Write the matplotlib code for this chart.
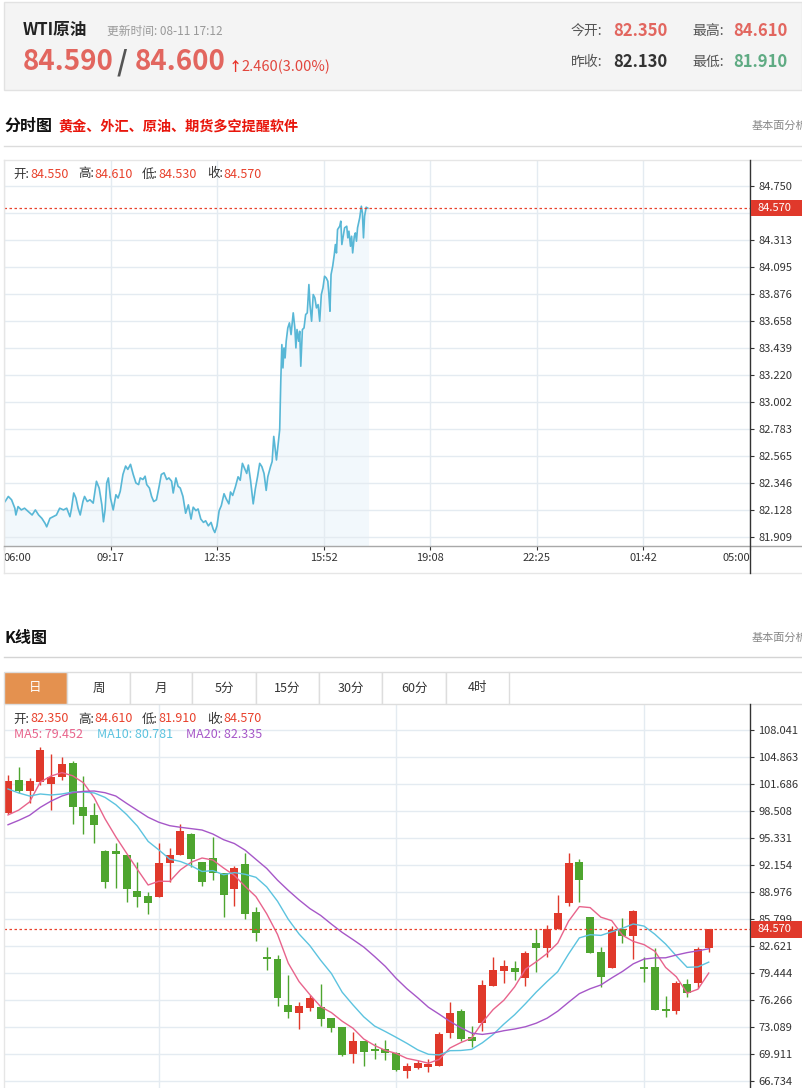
import numpy as np
import pandas as pd
import matplotlib
matplotlib.use("Agg")
import matplotlib.pyplot as plt
from matplotlib.patches import Rectangle
from matplotlib.lines import Line2D

plt.rcParams["font.family"] = ["Noto Sans CJK SC", "DejaVu Sans"]

# ---------------- 分时 data (minutes after 06:00) ----------------
tick_minutes = [
    2, 8, 14, 20, 22, 26, 32, 38, 45, 52, 58, 64, 70, 76, 79, 85, 91, 97, 103, 110,
    116, 122, 125, 129, 133, 137, 141, 146, 149, 154, 159, 165, 171, 176, 181, 184, 187, 190, 193, 197,
    202, 207, 211, 215, 220, 225, 229, 234, 239, 244, 249, 252, 257, 261, 264, 269, 273, 277, 282, 287,
    291, 296, 301, 305, 310, 313, 318, 322, 326, 331, 336, 341,
    346, 350, 355, 359, 364, 369, 373, 378, 383, 387, 390, 394, 398, 402, 407, 411, 416, 419, 423, 428,
    433, 437, 441, 445, 449, 452, 456, 461, 465, 469, 473, 477, 481, 485, 488, 493, 496, 499, 504, 507, 510,
    512, 514, 516, 518, 520, 522, 525, 528, 531, 535, 538, 540, 542, 545, 547, 549, 552, 555, 558, 561,
    564, 566, 569, 572, 575, 578, 581, 584, 587, 590, 593, 596, 599, 601, 603, 605, 608, 611, 613, 615,
    617, 621, 623, 625, 628, 630, 634, 636, 638, 641, 643, 645, 648, 650, 652, 654, 656, 658, 661, 663,
    665, 667, 670, 673,
]
tick_price = [
    82.196, 82.237, 82.210, 82.142, 82.087, 82.155, 82.128, 82.142, 82.114, 82.087, 82.128, 82.087, 82.060,
    82.019, 81.991, 82.060, 82.073, 82.087, 82.142, 82.128,
    82.142, 82.073, 82.142, 82.265, 82.224, 82.142, 82.087, 82.196, 82.237, 82.196, 82.210, 82.183, 82.360,
    82.305, 82.169, 82.032, 82.128, 82.346, 82.387, 82.224,
    82.128, 82.251, 82.224, 82.278, 82.415, 82.483, 82.456, 82.497, 82.415, 82.346, 82.333, 82.387, 82.374,
    82.401, 82.333, 82.305, 82.237, 82.196, 82.210, 82.319,
    82.415, 82.428, 82.374, 82.387, 82.360, 82.265, 82.387, 82.319, 82.305, 82.237, 82.101, 82.169,
    82.054, 82.150, 82.122, 82.136, 82.054, 82.027, 82.040, 81.999, 82.027, 81.972, 81.945, 81.999, 82.122,
    82.163, 82.259, 82.218, 82.177, 82.273, 82.245, 82.314,
    82.396, 82.368, 82.505, 82.464, 82.423, 82.491, 82.368, 82.177, 82.300, 82.396, 82.505, 82.478, 82.423,
    82.286, 82.396, 82.478, 82.519, 82.723, 82.532, 82.655, 82.778,
    83.170, 83.466, 83.277, 83.439, 83.358, 83.493, 83.601, 83.642, 83.547, 83.723, 83.601, 83.439, 83.588,
    83.493, 83.574, 83.291, 83.588, 83.601, 83.709, 83.723,
    83.952, 83.790, 83.655, 83.871, 83.844, 83.763, 83.790, 83.655, 83.871, 83.925, 84.019, 84.006, 83.979,
    83.871, 83.736, 84.033, 84.100, 84.195, 84.276, 84.208,
    84.397, 84.424, 84.465, 84.276, 84.357, 84.411, 84.424, 84.330, 84.384, 84.262, 84.343, 84.208, 84.343,
    84.370, 84.303, 84.411, 84.451, 84.492, 84.586, 84.532,
    84.330, 84.505, 84.578, 84.570,
]
time_labels = ["06:00", "09:17", "12:35", "15:52", "19:08", "22:25", "01:42", "05:00"]
tick_axis_values = [81.909, 82.128, 82.346, 82.565, 82.783, 83.002, 83.220,
                    83.439, 83.658, 83.876, 84.095, 84.313, 84.532, 84.750]
# 84.532 sits under the red price tag, so its label is not visible
tick_axis_labels = ["81.909", "82.128", "82.346", "82.565", "82.783", "83.002", "83.220",
                    "83.439", "83.658", "83.876", "84.095", "84.313", "", "84.750"]

# ---------------- 日K data ----------------
k_open = [98.27, 102.16, 100.86, 101.92, 101.68, 102.51, 104.16, 98.98, 98.04, 93.80,
          93.80, 93.33, 89.09, 88.50, 88.39, 92.39, 93.33, 95.80, 92.51, 92.98,
          91.21, 89.33, 92.27, 86.62, 81.33, 81.09, 75.68, 74.74, 75.32, 75.44,
          74.15, 73.09, 69.91, 71.44, 70.50, 70.50, 70.03, 67.91, 68.26, 68.38,
          68.50, 72.38, 74.97, 71.91, 73.56, 77.91, 79.68, 80.03, 78.86, 82.97,
          82.39, 84.62, 87.68, 92.51, 86.03, 81.91, 80.03, 84.62, 83.80, 80.15,
          80.15, 75.21, 74.97, 78.15, 78.27, 82.35]
k_high = [102.74, 103.69, 102.39, 106.04, 105.21, 104.86, 104.39, 102.63, 99.45, 93.92,
          94.74, 93.33, 92.51, 88.98, 94.74, 94.15, 96.98, 95.92, 92.51, 95.45,
          91.21, 92.04, 93.57, 87.21, 82.50, 81.56, 79.21, 76.03, 76.85, 78.15,
          74.15, 73.09, 72.50, 71.44, 71.21, 71.56, 70.15, 68.85, 69.21, 69.32,
          72.50, 76.03, 75.21, 73.21, 78.62, 81.33, 80.97, 80.86, 82.03, 84.62,
          85.09, 88.62, 93.57, 92.86, 86.03, 82.50, 84.97, 85.92, 86.86, 81.33,
          82.39, 76.74, 78.50, 78.74, 82.50, 84.61]
k_low = [98.15, 100.63, 99.45, 101.57, 98.62, 102.16, 96.98, 95.80, 94.74, 89.45,
         89.45, 87.80, 87.21, 86.39, 88.39, 90.15, 93.33, 91.92, 89.68, 90.39,
         86.03, 87.33, 85.80, 83.21, 79.80, 75.56, 74.15, 72.85, 74.97, 73.21,
         72.50, 69.68, 68.85, 68.50, 69.32, 69.21, 67.91, 67.09, 68.15, 67.79,
         68.50, 71.79, 71.44, 70.74, 72.62, 77.91, 78.27, 78.62, 77.91, 79.56,
         81.33, 84.62, 87.33, 87.80, 81.80, 77.80, 80.03, 82.97, 81.09, 78.38,
         75.09, 74.27, 74.62, 76.62, 77.68, 81.91]
k_close = [102.04, 100.86, 102.04, 105.69, 102.51, 104.04, 98.98, 97.92, 96.86, 90.15,
           93.45, 89.33, 88.39, 87.68, 92.39, 93.33, 96.15, 92.86, 90.15, 91.21,
           88.62, 91.80, 86.39, 84.15, 81.09, 76.50, 74.85, 75.56, 76.50, 74.03,
           72.97, 69.79, 71.44, 70.15, 70.26, 70.03, 68.03, 68.50, 68.85, 68.73,
           72.27, 74.74, 71.68, 71.44, 78.03, 79.80, 80.27, 79.56, 81.80, 82.39,
           84.62, 86.50, 92.39, 90.39, 81.80, 78.97, 84.50, 83.80, 86.74, 79.91,
           75.09, 74.97, 78.27, 77.09, 82.27, 84.57]
# moving averages at the left edge depend on earlier days
ma5_head = [98.04, 98.62, 99.57, 101.92]
ma10_head = [101.10, 100.63, 100.27, 100.51, 100.39, 100.51, 100.74, 100.74, 100.63]
ma20_head = [96.89, 97.41, 98.00, 98.94, 99.68, 100.27, 100.66, 100.82, 100.86, 100.66,
             100.27, 99.41, 98.59, 97.77, 97.18, 96.78, 96.59, 96.43, 96.27]
month_starts = [14, 36, 59]
k_axis_labels = ["66.734", "69.911", "73.089", "76.266", "79.444", "82.621", "85.799",
                 "88.976", "92.154", "95.331", "98.508", "101.686", "104.863", "108.041"]
tabs = ["日", "周", "月", "5分", "15分", "30分", "60分", "4时"]

RED = "#e8412c"
UP = "#e0392b"
DOWN = "#4ea52f"
GRID = "#e4ebf1"

W, H = 802, 1088
fig = plt.figure(figsize=(W / 100, H / 100), dpi=100)
fig.patch.set_facecolor("white")


def fx(x):
    return x / W


def fy(y):
    return 1 - y / H


def put(x, y, s, size=9, color="#333333", weight="normal", ha="left", z=4):
    fig.text(fx(x), fy(y), s, fontsize=size, color=color, fontweight=weight,
             ha=ha, va="center", zorder=z)


def rect(x0, y0, x1, y1, fc="none", ec="none", lw=1, z=1):
    fig.add_artist(Rectangle((fx(x0), fy(y1)), (x1 - x0) / W, (y1 - y0) / H,
                             transform=fig.transFigure, facecolor=fc, edgecolor=ec,
                             linewidth=lw, zorder=z))


def hline(x0, x1, y, color, lw=1, z=3):
    fig.add_artist(Line2D([fx(x0), fx(x1)], [fy(y), fy(y)], transform=fig.transFigure,
                          color=color, lw=lw, zorder=z))


def vline(x, y0, y1, color, lw=1, z=3):
    fig.add_artist(Line2D([fx(x), fx(x)], [fy(y0), fy(y1)], transform=fig.transFigure,
                          color=color, lw=lw, zorder=z))


# ---------------- header ----------------
rect(4, 2, 802, 90, fc="#f4f4f4", ec="#e2e2e2", z=0)
put(23, 30, "WTI原油", 12, "#222222", "bold")
put(107, 31, "更新时间: 08-11 17:12", 8.5, "#999999")
put(23, 62, "84.590", 20, "#e2665f", "bold")
put(117, 62, "/", 20, "#555555", "bold")
put(135, 62, "84.600", 20, "#e2665f", "bold")
put(229, 67, "↑", 9.5, "#e8332a", "bold")
put(241, 67, "2.460(3.00%)", 10.5, "#e2463d")
put(571, 31, "今开:", 10, "#555555")
put(613, 31, "82.350", 12, "#e2665f", "bold")
put(692, 31, "最高:", 10, "#555555")
put(733, 31, "84.610", 12, "#e2665f", "bold")
put(571, 62, "昨收:", 10, "#555555")
put(613, 62, "82.130", 12, "#333333", "bold")
put(692, 62, "最低:", 10, "#555555")
put(733, 62, "81.910", 12, "#5fab83", "bold")

# ---------------- 分时图 ----------------
put(4, 126, "分时图", 11.5, "#111111", "bold")
put(58, 126, "黄金、外汇、原油、期货多空提醒软件", 10.2, "#e8160c", "bold")
put(752, 126, "基本面分析", 8, "#888888")
hline(4, 802, 146, "#dcdcdc")

y_lo1, y_hi1 = 81.836, 84.960
ax1 = fig.add_axes([fx(4), fy(546), (750 - 4) / W, (546 - 160) / H])
ax1.set_facecolor("none")
ax1.fill_between(tick_minutes, tick_price, y_lo1, color="#f2f8fc", zorder=1)
ax1.plot(tick_minutes, tick_price, color="#58b7d6", lw=1.2, zorder=3)
ax1.axhline(tick_price[-1], color=RED, lw=0.9, ls=(0, (2, 2)), zorder=4)
ax1.set_xlim(0, 1380)
ax1.set_ylim(y_lo1, y_hi1)
ax1.set_yticks(tick_axis_values)
ax1.set_yticklabels(tick_axis_labels)
ax1.set_xticks(np.linspace(0, 1380, len(time_labels)))
ax1.set_xticklabels(time_labels)
ax1.yaxis.tick_right()
ax1.tick_params(axis="y", length=3, pad=3, labelsize=8, colors="#333333")
ax1.tick_params(axis="x", length=3, pad=2, labelsize=8, colors="#333333")
xl = ax1.get_xticklabels()
xl[0].set_ha("left")
xl[-1].set_ha("right")
ax1.grid(color=GRID, lw=1, zorder=0)
for s in ax1.spines.values():
    s.set_visible(False)

hline(4, 802, 160, "#e6e6e6")
hline(4, 802, 573, "#e6e6e6")
vline(4, 160, 573, "#e6e6e6")
hline(4, 802, 546, "#a8a8a8")
vline(750, 160, 573, "#333333")

labels = ["开:", "高:", "低:", "收:"]
lab_x = [13, 78, 142, 207]
val_x = [30, 94, 158, 223]
tick_ohlc = ["84.550", "84.610", "84.530", "84.570"]
for lab, lx, vx, v in zip(labels, lab_x, val_x, tick_ohlc):
    put(lx, 174, lab, 9, "#333333")
    put(vx, 174, v, 9, RED)

rect(751, 200, 802, 216, fc="#e0392b", z=5)
put(757, 208, "84.570", 8, "white", z=6)

# ---------------- K线图 ----------------
put(4, 638, "K线图", 11.5, "#111111", "bold")
put(752, 638, "基本面分析", 8, "#888888")
hline(4, 802, 657, "#d4d4d4")

tab_edges = [4, 67, 130, 192, 256, 319, 382, 446, 509]
for i, lab in enumerate(tabs):
    x0, x1 = tab_edges[i], tab_edges[i + 1]
    rect(x0, 672, x1, 704, fc="#e4914f" if i == 0 else "white", ec="#dddddd", z=2)
    put((x0 + x1) / 2, 688, lab, 9, "white" if i == 0 else "#333333", ha="center")
hline(509, 802, 672, "#dddddd")
hline(509, 802, 704, "#dddddd")

ax2 = fig.add_axes([fx(4), 0, (750 - 4) / W, (1088 - 704) / H])
ax2.set_facecolor("none")
idx = np.arange(len(k_close))
o = np.array(k_open)
c = np.array(k_close)
colors = [UP if cc >= oo else DOWN for oo, cc in zip(o, c)]
bottoms = np.minimum(o, c)
heights = np.maximum(np.abs(c - o), 0.15)
ax2.vlines(idx, k_low, k_high, colors=colors, lw=1, zorder=2)
ax2.bar(idx, heights, bottom=bottoms, width=0.74, color=colors, zorder=3)

close_s = pd.Series(k_close)
ma5 = close_s.rolling(5).mean().to_numpy()
ma5[:len(ma5_head)] = ma5_head
ma10 = close_s.rolling(10).mean().to_numpy()
ma10[:len(ma10_head)] = ma10_head
ma20 = close_s.rolling(20).mean().to_numpy()
ma20[:len(ma20_head)] = ma20_head
ax2.plot(idx, ma5, color="#e8648c", lw=1, zorder=4)
ax2.plot(idx, ma10, color="#5cc3df", lw=1, zorder=4)
ax2.plot(idx, ma20, color="#a657c8", lw=1, zorder=4)

ax2.axhline(k_close[-1], color=RED, lw=0.9, ls=(0, (2, 2)), zorder=5)
for m in month_starts:
    ax2.axvline(m, color=GRID, lw=1, zorder=0)
ax2.set_xlim(-0.371, 68.83)
ax2.set_ylim(65.91, 111.10)
ax2.set_yticks([float(s) for s in k_axis_labels])
ax2.set_yticklabels(k_axis_labels)
ax2.set_xticks([])
ax2.yaxis.tick_right()
ax2.tick_params(axis="y", length=3, pad=3, labelsize=8, colors="#333333")
ax2.grid(axis="y", color=GRID, lw=1, zorder=0)
for s in ax2.spines.values():
    s.set_visible(False)

vline(4, 704, 1088, "#e6e6e6")
vline(750, 704, 1088, "#333333")

k_ohlc = ["82.350", "84.610", "81.910", "84.570"]
for lab, lx, vx, v in zip(labels, lab_x, val_x, k_ohlc):
    put(lx, 719, lab, 9, "#333333")
    put(vx, 719, v, 9, RED)
put(14, 735, "MA5: 79.452", 9, "#e8648c")
put(97, 735, "MA10: 80.781", 9, "#5cc3df")
put(186, 735, "MA20: 82.335", 9, "#a657c8")

rect(751, 921, 802, 938, fc="#e0392b", z=5)
put(757, 929.5, "84.570", 8, "white", z=6)

fig.savefig("out.png", dpi=100)
